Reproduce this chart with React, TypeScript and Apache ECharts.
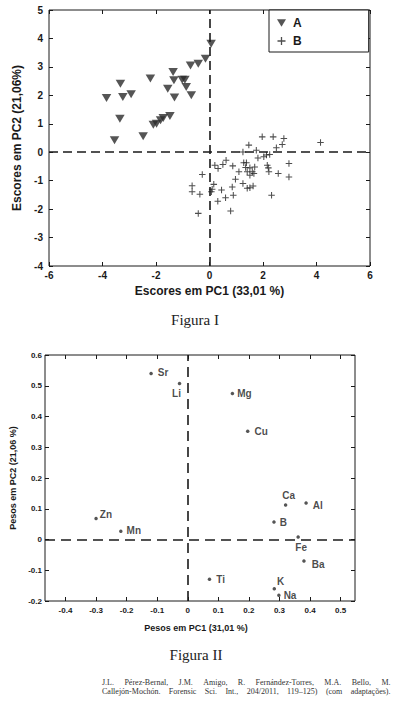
import React, { useEffect, useRef } from "react";
import * as echarts from "echarts";

// ---------- Figure I data (scores) ----------
const groupAPC1 = [-3.85, -3.33, -3.24, -2.93, -3.35, -3.55, -2.21, -2.48, -2.1, -1.98, -1.83, -1.73, -1.48, -1.56, -1.36, -1.33, -1.31, -1.02, -0.92, -0.87, -0.68, -0.71, -0.42, -0.15, 0.06];
const groupAPC2 = [1.91, 2.41, 1.94, 2.04, 1.18, 0.42, 2.59, 0.56, 0.97, 1.0, 1.12, 1.2, 1.27, 2.23, 2.82, 2.53, 1.92, 2.55, 2.55, 2.29, 2.0, 3.05, 3.11, 3.29, 3.81];

const groupBPC1 = [1.97, 2.38, 2.78, 2.72, 2.5, 1.47, 1.75, 1.25, 1.81, 2.03, 2.25, 4.15, -0.27, 0.2, 0.32, 0.5, 0.62, 0.87, 1.28, 1.38, 1.51, 1.69, 2.16, 2.97, 1.1, 1.41, 1.51, 1.66, 2.22, 2.57, 2.97, 0.97, 1.25, 1.41, 1.51, 1.63, 0.85, 0.16, 0.1, 0.07, 0.45, -0.65, -0.65, -0.36, 0.31, 0.6, 0.89, 2.32, 0.79, -0.42, 2.13, 1.6, 2.2, 1.35];
const groupBPC2 = [0.54, 0.54, 0.48, 0.27, 0.16, 0.25, 0.07, 0.01, -0.2, -0.16, -0.08, 0.34, -0.78, -0.46, -0.57, -0.43, -0.28, -0.48, -0.37, -0.37, -0.55, -0.52, -0.46, -0.4, -0.69, -0.69, -0.81, -0.75, -0.69, -0.75, -0.87, -0.95, -1.1, -1.27, -1.25, -1.19, -1.22, -1.13, -1.3, -1.39, -1.33, -1.18, -1.39, -1.48, -1.72, -1.6, -1.51, -1.51, -2.07, -2.15, -0.1, -0.69, -0.55, -0.54];

const fig1XTicks = [-6, -4, -2, 0, 2, 4, 6];
const fig1YTicks = [-4, -3, -2, -1, 0, 1, 2, 3, 4, 5];

// ---------- Figure II data (loadings) ----------
const elementNames = ["Sr", "Li", "Mg", "Cu", "Zn", "Mn", "Ca", "Al", "B", "Fe", "Ba", "Ti", "K", "Na"];
const loadingPC1 = [-0.12, -0.027, 0.146, 0.196, -0.3, -0.219, 0.32, 0.387, 0.282, 0.361, 0.38, 0.071, 0.283, 0.298];
const loadingPC2 = [0.54, 0.507, 0.475, 0.352, 0.068, 0.027, 0.112, 0.119, 0.057, 0.008, -0.07, -0.129, -0.16, -0.181];

const fig2XTicks = [-0.4, -0.3, -0.2, -0.1, 0, 0.1, 0.2, 0.3, 0.4, 0.5];
const fig2YTicks = [-0.2, -0.1, 0, 0.1, 0.2, 0.3, 0.4, 0.5, 0.6];

// label placement (style only)
const labelPlacement: Record<string, { position: string; offset: number[] }> = {
  Sr: { position: "right", offset: [0, -1] },
  Li: { position: "bottom", offset: [-3, -2] },
  Mg: { position: "right", offset: [-2, 0] },
  Cu: { position: "right", offset: [0, 0] },
  Zn: { position: "right", offset: [-3, -4] },
  Mn: { position: "right", offset: [-1, -1] },
  Ca: { position: "top", offset: [3, 2] },
  Al: { position: "right", offset: [0, 3] },
  B: { position: "right", offset: [-1, 1] },
  Fe: { position: "bottom", offset: [3, -1] },
  Ba: { position: "right", offset: [1, 3] },
  Ti: { position: "right", offset: [0, 0] },
  K: { position: "right", offset: [-4, -7] },
  Na: { position: "right", offset: [-2, 0] },
};

const citationLines = [
  "J.L. Pérez-Bernal, J.M. Amigo, R. Fernández-Torres, M.A. Bello, M.",
  "Callejón-Mochón. Forensic Sci. Int., 204/2011, 119–125) (com adaptações).",
];

const SANS = "'Liberation Sans', Arial, sans-serif";
const SERIF = "'Liberation Serif', 'Times New Roman', serif";
const INK = "#1a1a1a";

const triPath = "path://M0,0L10,0L5,8.6Z";
const plusPath = "path://M4.2,0H5.8V4.2H10V5.8H5.8V10H4.2V5.8H0V4.2H4.2Z";

function justifyLine(text: string, left: number, right: number, y: number, fontSize: number) {
  const ctx = document.createElement("canvas").getContext("2d") as CanvasRenderingContext2D;
  ctx.font = `${fontSize}px 'Liberation Serif'`;
  const words = text.split(" ");
  const widths = words.map((w) => ctx.measureText(w).width);
  const total = widths.reduce((a, b) => a + b, 0);
  const gap = words.length > 1 ? (right - left - total) / (words.length - 1) : 0;
  let x = left;
  return words.map((w, i) => {
    const el = {
      type: "text",
      x,
      y,
      style: { text: w, font: `${fontSize}px ${SERIF}`, fill: "#333", textVerticalAlign: "middle" },
    };
    x += widths[i] + gap;
    return el;
  });
}

export default function App() {
  const ref = useRef<HTMLDivElement>(null);

  useEffect(() => {
    if (!ref.current) return;
    const chart = echarts.init(ref.current, undefined, { renderer: "svg" });

    const tickStyle = { inside: true, length: 4, lineStyle: { color: INK, width: 1 } };
    const hiddenLine = { show: false, onZero: false };

    const f1Label = { fontSize: 10, fontWeight: "bold", fontFamily: SANS, color: INK };
    const f2Label = { fontSize: 8, fontWeight: "bold", fontFamily: SANS, color: INK };

    const fmt2 = (v: number) => (Math.abs(v) < 1e-9 ? "0" : v.toFixed(1));

    const loadData = elementNames.map((n, i) => ({
      name: n,
      value: [loadingPC1[i], loadingPC2[i]],
      label: { position: labelPlacement[n].position, offset: labelPlacement[n].offset },
    }));

    const zeroLine = (dash: number[]) => ({
      silent: true,
      symbol: ["none", "none"],
      label: { show: false },
      lineStyle: { color: INK, width: 1.6, type: dash },
      data: [{ xAxis: 0 }, { yAxis: 0 }],
    });

    const citation = [
      ...justifyLine(citationLines[0], 102, 390.5, 682.5, 8),
      ...justifyLine(citationLines[1], 102, 390.5, 691, 8),
    ];

    const option: any = {
      animation: false,
      backgroundColor: "#fff",
      grid: [
        { left: 49, top: 10, width: 321, height: 256, show: true, borderColor: INK, borderWidth: 1, backgroundColor: "transparent" },
        { left: 45, top: 355, width: 310, height: 246, show: true, borderColor: INK, borderWidth: 1, backgroundColor: "transparent" },
      ],
      xAxis: [
        {
          gridIndex: 0, type: "value", min: fig1XTicks[0], max: fig1XTicks[fig1XTicks.length - 1], interval: 2,
          axisLine: hiddenLine, axisTick: tickStyle, splitLine: { show: false },
          axisLabel: { ...f1Label, margin: 4, formatter: (v: number) => String(v) },
          name: "Escores em PC1 (33,01 %)", nameLocation: "middle", nameGap: 19,
          nameTextStyle: { fontSize: 12, fontWeight: "bold", fontFamily: SANS, color: INK },
        },
        {
          gridIndex: 0, type: "value", position: "top", min: -6, max: 6, interval: 2,
          axisLine: hiddenLine, axisTick: tickStyle, splitLine: { show: false }, axisLabel: { show: false },
        },
        {
          gridIndex: 1, type: "value", min: -0.467, max: 0.547,
          axisLine: hiddenLine, axisTick: { ...tickStyle, customValues: fig2XTicks }, splitLine: { show: false },
          axisLabel: { ...f2Label, margin: 5, customValues: fig2XTicks, formatter: fmt2 },
          name: "Pesos em PC1 (31,01 %)", nameLocation: "middle", nameGap: 22,
          nameTextStyle: { fontSize: 9, fontWeight: "bold", fontFamily: SANS, color: INK, padding: [0, 8, 0, 0] },
        },
        {
          gridIndex: 1, type: "value", position: "top", min: -0.467, max: 0.547,
          axisLine: hiddenLine, axisTick: { ...tickStyle, customValues: fig2XTicks }, splitLine: { show: false },
          axisLabel: { show: false, customValues: fig2XTicks },
        },
      ],
      yAxis: [
        {
          gridIndex: 0, type: "value", min: fig1YTicks[0], max: fig1YTicks[fig1YTicks.length - 1], interval: 1,
          axisLine: hiddenLine, axisTick: tickStyle, splitLine: { show: false },
          axisLabel: { ...f1Label, margin: 6, formatter: (v: number) => String(v) },
          name: "Escores em PC2 (21,06%)", nameLocation: "middle", nameGap: 18,
          nameTextStyle: { fontSize: 12, fontWeight: "bold", fontFamily: SANS, color: INK },
        },
        {
          gridIndex: 0, type: "value", position: "right", min: -4, max: 5, interval: 1,
          axisLine: hiddenLine, axisTick: tickStyle, splitLine: { show: false }, axisLabel: { show: false },
        },
        {
          gridIndex: 1, type: "value", min: fig2YTicks[0], max: fig2YTicks[fig2YTicks.length - 1], interval: 0.1,
          axisLine: hiddenLine, axisTick: tickStyle, splitLine: { show: false },
          axisLabel: { ...f2Label, margin: 3, formatter: fmt2 },
          name: "Pesos em PC2 (21,06 %)", nameLocation: "middle", nameGap: 20,
          nameTextStyle: { fontSize: 9, fontWeight: "bold", fontFamily: SANS, color: INK },
        },
        {
          gridIndex: 1, type: "value", position: "right", min: -0.2, max: 0.6, interval: 0.1,
          axisLine: hiddenLine, axisTick: tickStyle, splitLine: { show: false }, axisLabel: { show: false },
        },
      ],
      legend: {
        data: ["A", "B"],
        orient: "vertical",
        left: 269,
        top: 10,
        padding: [6, 67, 4, 8],
        itemWidth: 9,
        itemHeight: 8,
        itemGap: 4,
        borderColor: INK,
        borderWidth: 1,
        borderRadius: 0,
        backgroundColor: "#fff",
        selectedMode: false,
        textStyle: { fontSize: 12, fontWeight: "bold", fontFamily: SANS, color: INK, lineHeight: 14, padding: [0, 0, 0, 2] },
      },
      series: [
        {
          name: "A",
          type: "scatter",
          xAxisIndex: 0,
          yAxisIndex: 0,
          symbol: triPath,
          symbolSize: [9.5, 8],
          itemStyle: { color: "#2b2b2b" },
          data: groupAPC1.map((x, i) => [x, groupAPC2[i]]),
          markLine: zeroLine([9, 5]),
        },
        {
          name: "B",
          type: "scatter",
          xAxisIndex: 0,
          yAxisIndex: 0,
          symbol: plusPath,
          symbolSize: 6.5,
          itemStyle: { color: "#222" },
          data: groupBPC1.map((x, i) => [x, groupBPC2[i]]),
        },
        {
          name: "Pesos",
          type: "scatter",
          xAxisIndex: 2,
          yAxisIndex: 2,
          symbol: "circle",
          symbolSize: 3.5,
          itemStyle: { color: "#2b2b2b" },
          label: {
            show: true,
            formatter: "{b}",
            fontSize: 10,
            fontWeight: "bold",
            fontFamily: SANS,
            color: INK,
          },
          data: loadData,
          markLine: zeroLine([10, 6]),
        },
      ],
      graphic: [
        {
          type: "text", x: 195, y: 320,
          style: { text: "Figura I", font: `15px ${SERIF}`, fill: "#222", textAlign: "center", textVerticalAlign: "middle" },
        },
        {
          type: "text", x: 196, y: 655,
          style: { text: "Figura II", font: `15px ${SERIF}`, fill: "#222", textAlign: "center", textVerticalAlign: "middle" },
        },
        ...citation,
      ],
    };

    chart.setOption(option);
    return () => chart.dispose();
  }, []);

  return (
    <div
      ref={ref}
      style={{ position: "absolute", left: 0, top: 0, width: 396, height: 717, background: "#fff" }}
    />
  );
}
